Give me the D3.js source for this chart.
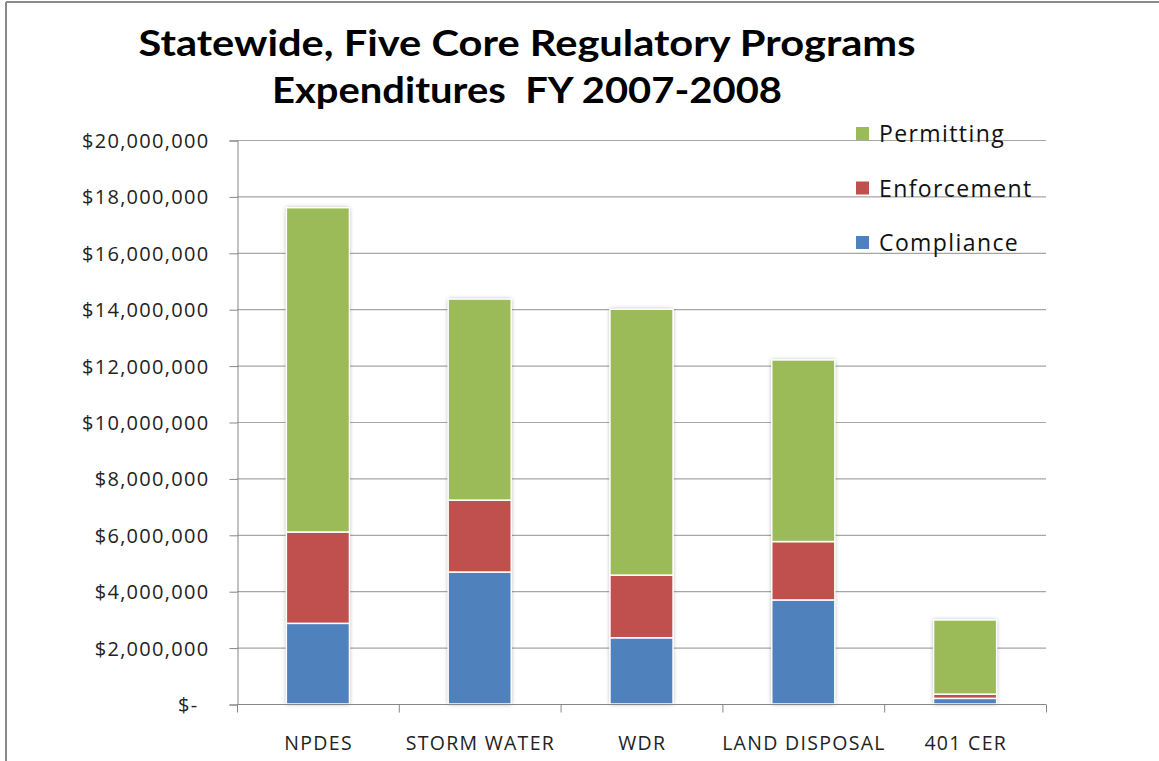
<!DOCTYPE html>
<html>
<head>
<meta charset="utf-8">
<script src="https://cdn.jsdelivr.net/npm/d3@7"></script>
<style>
  html, body { margin: 0; padding: 0; background: #fff; }
  svg { display: block; }
</style>
</head>
<body>
<script>
// ---- data ----
const categories = ["NPDES", "STORM WATER", "WDR", "LAND DISPOSAL", "401 CER"];
const compliance  = [2860000, 4680000, 2350000, 3690000, 200000];
const enforcement = [3240000, 2550000, 2220000, 2070000, 150000];
const permitting  = [11500000, 7130000, 9430000, 6440000, 2630000];
const seriesNames = ["Compliance", "Enforcement", "Permitting"];
const seriesColors = ["#4F81BD", "#C0504D", "#9BBB59"];
const yTicks = [0, 2000000, 4000000, 6000000, 8000000, 10000000, 12000000, 14000000, 16000000, 18000000, 20000000];
const titleLines = ["Statewide, Five Core Regulatory Programs", "Expenditures  FY 2007-2008"];

const W = 1159, H = 761;
const margin = {left: 237, right: 1046, top: 140, bottom: 704};
const FONT = "'Open Sans', Lato, sans-serif";

const svg = d3.select("body").append("svg").attr("width", W).attr("height", H);

const defs = svg.append("defs");
const f = defs.append("filter").attr("id", "shadow").attr("x", "-20%").attr("y", "-5%").attr("width", "140%").attr("height", "110%");
f.append("feDropShadow").attr("dx", 0).attr("dy", 0).attr("stdDeviation", 2.2)
  .attr("flood-color", "#000").attr("flood-opacity", 0.35);

// frame
svg.append("line").attr("x1", 6).attr("x2", W).attr("y1", 2).attr("y2", 2)
  .attr("stroke", "#8a8a8a").attr("stroke-width", 2);
svg.append("line").attr("x1", 6).attr("x2", 6).attr("y1", 2).attr("y2", H)
  .attr("stroke", "#8a8a8a").attr("stroke-width", 2);

// scales
const x = d3.scaleBand().domain(categories).range([margin.left, margin.right]).paddingInner(0.61).paddingOuter(0.305);
const xOuter = d3.scaleBand().domain(categories).range([margin.left, margin.right]);
const y = d3.scaleLinear().domain([0, 20000000]).range([margin.bottom, margin.top]);

// gridlines
svg.append("g").selectAll("line").data(yTicks.filter(d => d > 0)).join("line")
  .attr("x1", margin.left).attr("x2", margin.right)
  .attr("y1", d => y(d) + 0.5).attr("y2", d => y(d) + 0.5)
  .attr("stroke", "#a6a6a6").attr("stroke-width", 1.2);

// y axis
const fmt = d => d === 0 ? "$-" : "$" + d3.format(",")(d);
const yAxis = svg.append("g").attr("transform", `translate(${margin.left + 0.5},0.5)`)
  .call(d3.axisLeft(y).tickValues(yTicks).tickSize(8).tickPadding(20).tickFormat(fmt));
yAxis.select(".domain").attr("stroke", "#868686");
yAxis.selectAll(".tick line").attr("stroke", "#868686");
yAxis.selectAll(".tick text")
  .attr("font-family", FONT).attr("font-size", 20).attr("fill", "#222")
  .attr("letter-spacing", 1.3)
  .attr("dy", "0.35em")
  .attr("dx", d => d === 0 ? -11 : 0);

// stacked data
const rows = categories.map((c, i) => ({cat: c, Compliance: compliance[i], Enforcement: enforcement[i], Permitting: permitting[i]}));
const stack = d3.stack().keys(seriesNames)(rows);

const barsG = svg.append("g");
barsG.selectAll("rect.sh").data(rows).join("rect").attr("class", "sh")
  .attr("x", d => x(d.cat)).attr("width", x.bandwidth())
  .attr("y", d => y(d.Compliance + d.Enforcement + d.Permitting))
  .attr("height", d => y(0) - y(d.Compliance + d.Enforcement + d.Permitting))
  .attr("fill", "#fff").attr("filter", "url(#shadow)");

stack.forEach((layer, li) => {
  barsG.append("g").selectAll("rect").data(layer).join("rect")
    .attr("x", d => x(d.data.cat)).attr("width", x.bandwidth())
    .attr("y", d => y(d[1])).attr("height", d => y(d[0]) - y(d[1]))
    .attr("fill", seriesColors[li]).attr("stroke", "#fff").attr("stroke-width", 1.5);
});

// x axis
const xAxisG = svg.append("g").attr("transform", `translate(0,${margin.bottom + 0.5})`);
xAxisG.append("line").attr("x1", margin.left).attr("x2", margin.right).attr("stroke", "#868686");
const tickXs = categories.map(c => xOuter(c)).concat([margin.right]);
xAxisG.selectAll("line.t").data(tickXs).join("line").attr("class", "t")
  .attr("x1", d => d + 0.5).attr("x2", d => d + 0.5).attr("y1", 0).attr("y2", 8).attr("stroke", "#868686");
xAxisG.selectAll("text").data(categories).join("text")
  .attr("x", d => xOuter(d) + xOuter.bandwidth() / 2 + 0.7).attr("y", 45)
  .attr("text-anchor", "middle")
  .attr("font-family", FONT).attr("font-size", 19.5).attr("fill", "#222")
  .attr("letter-spacing", 1.3)
  .text(d => d);

// legend
const legendItems = ["Permitting", "Enforcement", "Compliance"];
const legendColor = d => seriesColors[seriesNames.indexOf(d)];
const lg = svg.append("g").selectAll("g").data(legendItems).join("g")
  .attr("transform", (d, i) => `translate(856,${134 + i * 54.5})`);
lg.append("rect").attr("x", 0).attr("y", -7).attr("width", 13).attr("height", 13).attr("fill", d => legendColor(d));
lg.append("text").attr("x", 23).attr("y", 8)
  .attr("font-family", FONT).attr("font-size", 23).attr("fill", "#111")
  .attr("letter-spacing", 1.4)
  .text(d => d);

// title
const titleWidths = [777, 510];
svg.append("g").selectAll("text").data(titleLines).join("text")
  .attr("x", 527).attr("y", (d, i) => 56 + i * 47)
  .attr("text-anchor", "middle")
  .attr("font-family", "Lato, 'Open Sans', sans-serif").attr("font-weight", "bold").attr("font-size", 37)
  .attr("fill", "#000")
  .style("white-space", "pre")
  .attr("textLength", (d, i) => titleWidths[i]).attr("lengthAdjust", "spacingAndGlyphs")
  .text(d => d);
</script>
</body>
</html>
